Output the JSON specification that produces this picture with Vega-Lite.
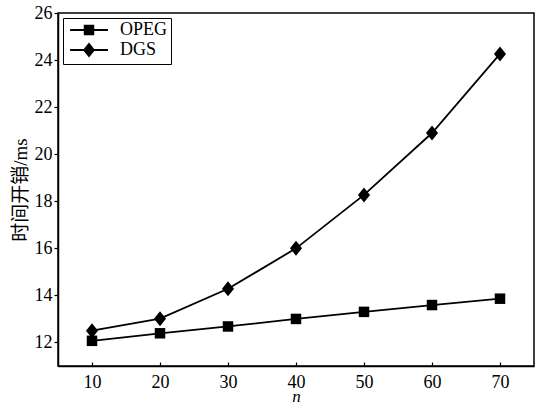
{
  "$schema": "https://vega.github.io/schema/vega-lite/v6.json",
  "width": 476,
  "height": 353,
  "autosize": "none",
  "padding": {"left": 58, "top": 13, "right": 2, "bottom": 40},
  "background": "white",
  "config": {
    "view": {"stroke": "black", "strokeWidth": 1.5},
    "font": "Liberation Serif",
    "axis": {
      "grid": false,
      "domainColor": "black",
      "domainWidth": 1.5,
      "tickColor": "black",
      "tickWidth": 1.2,
      "labelColor": "black",
      "labelFont": "Liberation Serif",
      "labelFontSize": 18,
      "titleFont": "Liberation Serif, Noto Sans CJK SC",
      "titleColor": "black",
      "titleFontWeight": "normal",
      "titleFontSize": 19
    }
  },
  "data": {
    "values": [
      {"n": 10, "series": "OPEG", "t": 12.07},
      {"n": 20, "series": "OPEG", "t": 12.39},
      {"n": 30, "series": "OPEG", "t": 12.68},
      {"n": 40, "series": "OPEG", "t": 13.0},
      {"n": 50, "series": "OPEG", "t": 13.3},
      {"n": 60, "series": "OPEG", "t": 13.59},
      {"n": 70, "series": "OPEG", "t": 13.86},
      {"n": 10, "series": "DGS", "t": 12.5},
      {"n": 20, "series": "DGS", "t": 13.01},
      {"n": 30, "series": "DGS", "t": 14.28},
      {"n": 40, "series": "DGS", "t": 16.0},
      {"n": 50, "series": "DGS", "t": 18.27},
      {"n": 60, "series": "DGS", "t": 20.9},
      {"n": 70, "series": "DGS", "t": 24.26}
    ]
  },
  "encoding": {
    "x": {
      "field": "n",
      "type": "quantitative",
      "scale": {"domain": [5, 75], "nice": false, "zero": false},
      "axis": {"values": [10, 20, 30, 40, 50, 60, 70], "tickSize": -4, "labelPadding": 11, "title": "n", "titleFontStyle": "italic", "titleFont": "Liberation Serif", "titleFontSize": 17, "titlePadding": -3}
    },
    "y": {
      "field": "t",
      "type": "quantitative",
      "scale": {"domain": [11, 26], "nice": false, "zero": false},
      "axis": {"values": [12, 14, 16, 18, 20, 22, 24, 26], "tickSize": 4, "labelPadding": 2, "title": "时间开销/ms", "titlePadding": 4}
    }
  },
  "layer": [
    {
      "mark": {"type": "line", "color": "black", "strokeWidth": 1.8},
      "encoding": {"detail": {"field": "series", "type": "nominal"}}
    },
    {
      "mark": {"type": "point", "filled": true, "color": "black", "size": 110, "opacity": 1},
      "encoding": {
        "shape": {
          "field": "series",
          "type": "nominal",
          "scale": {"domain": ["OPEG", "DGS"], "range": ["square", "M0,-1.43L1.15,0L0,1.43L-1.15,0Z"]},
          "legend": null
        }
      }
    },
    {
      "transform": [{"filter": "datum.n < 0"}],
      "mark": {"type": "point", "filled": true, "color": "black", "size": 110},
      "encoding": {
        "shape": {
          "field": "series",
          "type": "nominal",
          "scale": {"domain": ["OPEG", "DGS"], "range": ["M-3.6,-0.18L3.6,-0.18L3.6,0.18L-3.6,0.18Z M-1,-1L1,-1L1,1L-1,1Z", "M-3.6,-0.18L3.6,-0.18L3.6,0.18L-3.6,0.18Z M0,-1.43L1.15,0L0,1.43L-1.15,0Z"]},
          "legend": {
            "title": null,
            "orient": "none",
            "legendX": 5,
            "legendY": 5,
            "strokeColor": "black",
            "fillColor": "white",
            "padding": 3,
            "symbolOffset": 14,
            "labelOffset": 22,
            "labelFont": "Liberation Serif",
            "labelFontSize": 18,
            "labelColor": "black",
            "rowPadding": 0,
            "symbolSize": 110,
            "symbolFillColor": "black",
            "symbolOpacity": 1
          }
        }
      }
    }
  ],
  "resolve": {"scale": {"shape": "independent"}, "legend": {"shape": "independent"}}
}
